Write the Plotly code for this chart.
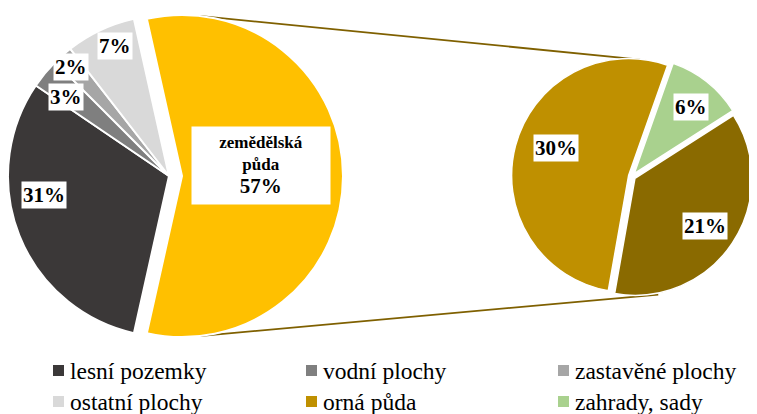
import math
import plotly.graph_objects as go

# ---------------- data ----------------
main_labels = ["zemědělská půda", "lesní pozemky", "vodní plochy", "zastavěné plochy", "ostatní plochy"]
main_values = [57, 31, 3, 2, 7]
sub_labels = ["orná půda", "zahrady, sady", "trvalé travní porosty"]
sub_values = [30, 6, 21]
legend_labels = ["lesní pozemky", "vodní plochy", "zastavěné plochy",
                 "ostatní plochy", "orná půda", "zahrady, sady"]

# ---------------- style ----------------
main_colors = ["#FFC000", "#3B3838", "#7F7F7F", "#A6A6A6", "#D9D9D9"]
sub_colors = ["#BF9000", "#A9D18E", "#8A6A00"]
color_of = dict(zip(main_labels + sub_labels, main_colors + sub_colors))
FONT = "Times New Roman, Liberation Serif, DejaVu Serif, serif"
CLEAR = "rgba(0,0,0,0)"

W, H = 757, 414          # page size
OFF = 8                  # default page (body) margin
FW, FH = W - OFF, H - OFF

L_CX, L_CY, L_R = 169, 176, 161
L_SHIFT = 13             # the detached "zemědělská půda" slice is moved right
R_CX, R_CY, R_R, R_PULL = 632, 176.4, 117.0, 0.03
R_ROT = -170

main_label_frac = [0.496, 0.785, 0.806, 0.91, 0.875]
main_label_off = [-7.9, 13, -2.1, -0.6, 2.6]
sub_label_frac = [0.69, 0.78, 0.75]
sub_label_off = [5.8, 1.6, 0.5]


def px(x):
    return (x - OFF) / FW


def py(y):
    return 1 - (y - OFF) / FH


def clip(v):
    return min(1.0, max(0.0, v))


def dom(cx, cy, half):
    return dict(x=[clip(px(cx - half)), clip(px(cx + half))],
                y=[clip(py(cy + half)), clip(py(cy - half))])


def mid_angles(values, rot):
    tot = sum(values)
    out, cur = [], rot
    for v in values:
        span = 360 * v / tot
        out.append(cur + span / 2)
        cur += span
    return out


L_ROT = 90 - 360 * main_values[0] / sum(main_values) / 2
n = len(main_values)

fig = go.Figure()

# rest of the main pie (detached slice left transparent)
fig.add_trace(go.Pie(
    labels=main_labels, values=main_values, sort=False, direction="clockwise",
    rotation=L_ROT, textinfo="none", showlegend=False,
    marker=dict(colors=[CLEAR] + main_colors[1:],
                line=dict(color="white", width=[0] + [2] * (n - 1))),
    domain=dom(L_CX, L_CY, L_R),
))
# detached slice
fig.add_trace(go.Pie(
    labels=main_labels, values=main_values, sort=False, direction="clockwise",
    rotation=L_ROT, textinfo="none", showlegend=False,
    marker=dict(colors=[main_colors[0]] + [CLEAR] * (n - 1),
                line=dict(color="white", width=[2] + [0] * (n - 1))),
    domain=dom(L_CX + L_SHIFT, L_CY, L_R),
))

sub_pull = [R_PULL] * len(sub_values)
fig.add_trace(go.Pie(
    labels=sub_labels, values=sub_values, sort=False, direction="clockwise",
    rotation=R_ROT, pull=sub_pull, textinfo="none", showlegend=False,
    marker=dict(colors=sub_colors, line=dict(color="white", width=1.5)),
    domain=dom(R_CX, R_CY, R_R * (1 + R_PULL)),
))

# ---------------- labels ----------------
annotations = []


def add_labels(values, cx, cy, r, rot, shifts, fracs, offs, center_idx=None):
    mids = mid_angles(values, rot)
    for i, v in enumerate(values):
        m = math.radians(mids[i])
        sx = cx + shifts[i] * math.sin(m)
        sy = cy - shifts[i] * math.cos(m)
        a = math.radians(mids[i] + offs[i])
        x = sx + fracs[i] * r * math.sin(a)
        y = sy - fracs[i] * r * math.cos(a)
        if i == center_idx:
            name = main_labels[i].split(" ")
            text = (f"{name[0]}<br>{name[1]}<br>"
                    f"<span style='font-size:21px'>{v}%</span>")
            annotations.append(dict(
                x=px(x), y=py(y), xref="paper", yref="paper", text=text,
                xanchor="center", yanchor="middle",
                showarrow=False, bgcolor="white", width=136, height=75,
                font=dict(family=FONT, size=17, color="black", weight="bold"),
                align="center"))
        else:
            annotations.append(dict(
                x=px(x), y=py(y), xref="paper", yref="paper", text=f"{v}%",
                xanchor="center", yanchor="middle",
                showarrow=False, bgcolor="white", borderpad=1,
                font=dict(family=FONT, size=21, color="black", weight="bold")))


add_labels(main_values, L_CX, L_CY, L_R, L_ROT, [L_SHIFT] + [0] * (n - 1),
           main_label_frac, main_label_off, center_idx=0)
add_labels(sub_values, R_CX, R_CY, R_R, R_ROT, [0] * len(sub_values),
           sub_label_frac, sub_label_off)

# ---------------- connector lines ----------------
shapes = []
ycx = L_CX + L_SHIFT
for la, ra, rdx, rdy in [(6, 3, 2, 0), (174, 173, 12, 2)]:
    x0 = ycx + L_R * math.sin(math.radians(la))
    y0 = L_CY - L_R * math.cos(math.radians(la))
    x1 = R_CX + rdx + R_R * math.sin(math.radians(ra))
    y1 = R_CY - R_R * math.cos(math.radians(ra)) + rdy
    shapes.append(dict(type="line", xref="paper", yref="paper",
                       x0=px(x0), y0=py(y0), x1=px(x1), y1=py(y1),
                       line=dict(color="#7F6000", width=1.8), layer="below"))

# ---------------- legend ----------------
col_x = [53, 306, 558]
row_y = [370.5, 401.5]
SW = 11
for k, lab in enumerate(legend_labels):
    cxp = col_x[k % 3]
    cyp = row_y[k // 3]
    shapes.append(dict(type="rect", xref="paper", yref="paper",
                       x0=px(cxp), x1=px(cxp + SW), y0=py(cyp + SW / 2), y1=py(cyp - SW / 2),
                       fillcolor=color_of[lab], line=dict(width=0)))
    annotations.append(dict(x=px(cxp + SW + 4), y=py(cyp), xref="paper", yref="paper",
                            text=lab, showarrow=False, xanchor="left", yanchor="middle",
                            font=dict(family=FONT, size=23.5, color="black")))

fig.update_layout(
    width=FW, height=FH, margin=dict(l=0, r=0, t=0, b=0),
    paper_bgcolor="white", plot_bgcolor="white",
    annotations=annotations, shapes=shapes, showlegend=False,
)

fig.write_html("out.html")
